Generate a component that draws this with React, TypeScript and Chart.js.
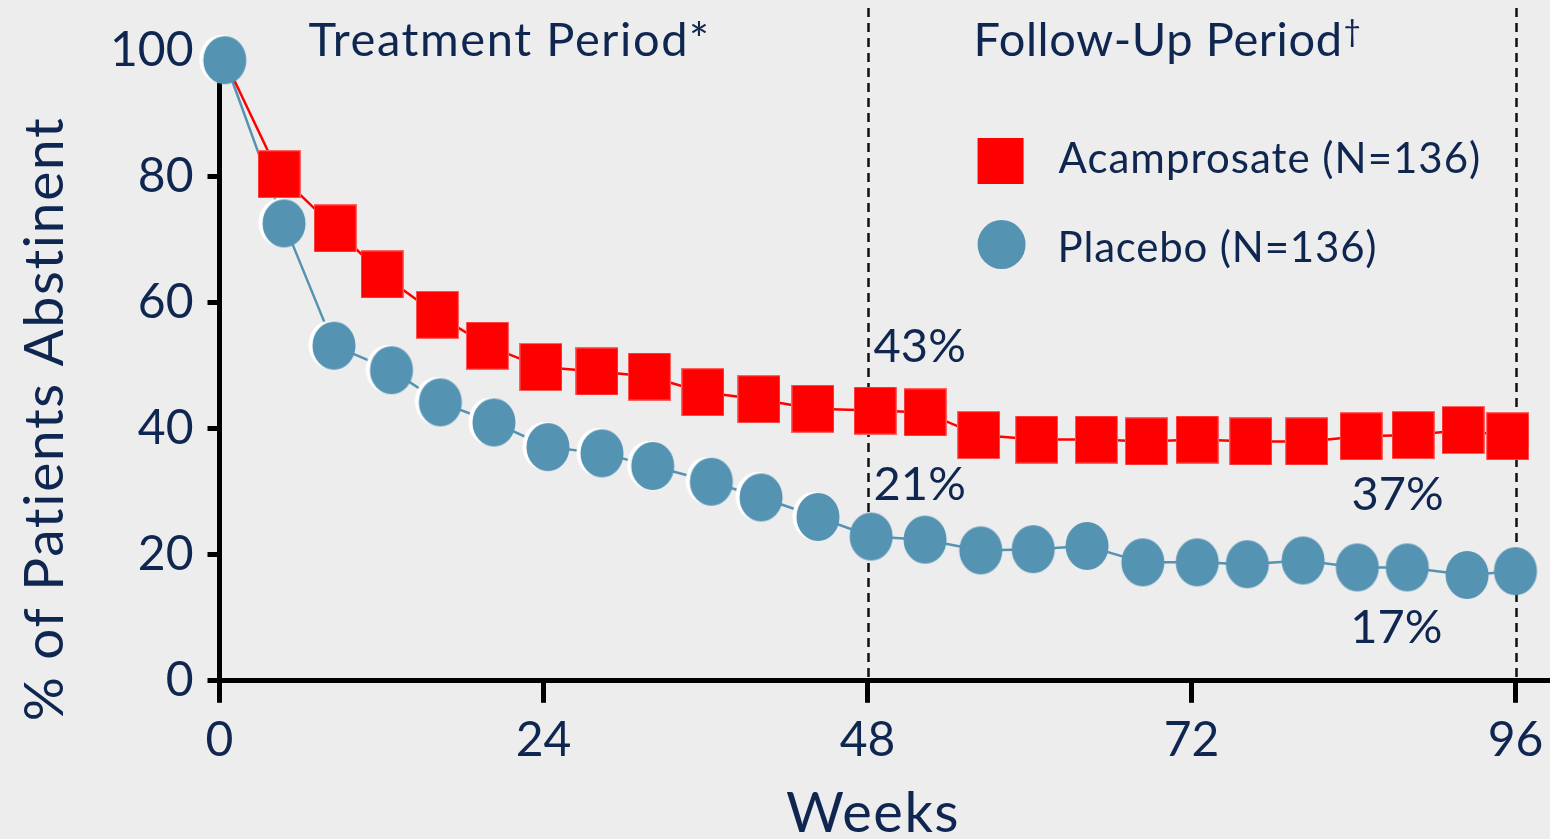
import React, { useEffect, useRef } from 'react';
import { Chart, registerables } from 'chart.js';

Chart.register(...registerables);

// ---- data ----
const ACAMPROSATE_WEEKS = [0.39, 4.41, 8.56, 12.04, 16.13, 19.84, 23.81, 27.96, 31.84, 35.81, 39.96, 43.96, 48.56, 52.26, 56.24, 60.53, 64.95, 68.65, 72.41, 76.39, 80.53, 84.56, 88.41, 92.11, 95.42];
const ACAMPROSATE_VALUES = [98.5, 80.4, 71.8, 64.5, 58.1, 53.2, 49.8, 49.1, 48.3, 45.8, 44.7, 43.2, 42.9, 42.6, 39.0, 38.3, 38.3, 38.0, 38.3, 38.0, 38.0, 38.8, 39.0, 39.8, 38.8];
const PLACEBO_WEEKS = [0.39, 4.78, 8.48, 12.74, 16.36, 20.33, 24.33, 28.33, 32.09, 36.43, 40.11, 44.33, 48.27, 52.26, 56.39, 60.27, 64.26, 68.39, 72.42, 76.13, 80.26, 84.28, 87.98, 92.41, 95.99];
const PLACEBO_VALUES = [98.5, 72.6, 53.2, 49.3, 44.2, 41.0, 37.1, 36.1, 34.1, 31.6, 29.1, 26.0, 22.9, 22.4, 20.7, 20.9, 21.4, 18.8, 18.8, 18.5, 19.1, 18.0, 18.0, 16.8, 17.4];
const X_TICKS = [0, 24, 48, 72, 96];
const Y_TICKS = [0, 20, 40, 60, 80, 100];
const PERIOD_BOUNDARIES = [48, 96];
const SERIES_NAMES = ['Acamprosate (N=136)', 'Placebo (N=136)'];
const PERIOD_NAMES = ['Treatment Period*', 'Follow-Up Period'];
const X_TITLE = 'Weeks';
const Y_TITLE = '% of Patients Abstinent';
const CALLOUTS = [
  { text: '43%', week: 48.45, value: 50.6 },
  { text: '21%', week: 48.45, value: 28.7 },
  { text: '37%', week: 83.85, value: 27.1 },
  { text: '17%', week: 83.75, value: 6.0 },
];

// ---- styles ----
const NAVY = '#0F2750';
const RED = '#FF0000';
const BLUE = '#5593B3';
const BG = '#EDEDED';
const FONT = 'Lato, "Open Sans", sans-serif';

function makeSquare(color: string) {
  const c = document.createElement('canvas');
  c.width = 43;
  c.height = 48;
  const g = c.getContext('2d')!;
  g.fillStyle = color;
  g.fillRect(0, 0, 43, 48);
  g.strokeStyle = 'rgba(255,120,120,0.8)';
  g.lineWidth = 1;
  g.strokeRect(0.5, 0.5, 42, 47);
  return c;
}

function makeEllipse(color: string, halo: boolean) {
  const c = document.createElement('canvas');
  c.width = 52;
  c.height = 50;
  const g = c.getContext('2d')!;
  if (halo) {
    g.fillStyle = '#FFFFFF';
    g.beginPath();
    g.ellipse(22, 24, 21.5, 24, 0, 0, Math.PI * 2);
    g.fill();
  }
  g.fillStyle = color;
  g.beginPath();
  g.ellipse(26, 25, 21.5, 24, 0, 0, Math.PI * 2);
  g.fill();
  return c;
}

function setSpacing(ctx: any, px: number) {
  if ('letterSpacing' in ctx) ctx.letterSpacing = `${px}px`;
}

export default function App() {
  const ref = useRef<HTMLCanvasElement | null>(null);

  useEffect(() => {
    const canvas = ref.current;
    if (!canvas) return;

    const square = makeSquare(RED);
    const dotHalo = makeEllipse(BLUE, true);
    const dot = makeEllipse(BLUE, false);

    const acData = ACAMPROSATE_WEEKS.map((w, i) => ({ x: w, y: ACAMPROSATE_VALUES[i] }));
    const plData = PLACEBO_WEEKS.map((w, i) => ({ x: w, y: PLACEBO_VALUES[i] }));

    const decor = {
      id: 'decor',
      beforeDatasetsDraw(chart: any) {
        const { ctx, chartArea, scales } = chart;
        ctx.save();
        ctx.strokeStyle = '#111111';
        ctx.lineWidth = 2.5;
        ctx.setLineDash([9, 6]);
        PERIOD_BOUNDARIES.forEach((w) => {
          const px = Math.round(scales.x.getPixelForValue(w)) + 0.5;
          ctx.beginPath();
          ctx.moveTo(px, 8);
          ctx.lineTo(px, chartArea.bottom - 3);
          ctx.stroke();
        });
        ctx.restore();
      },
      afterDraw(chart: any) {
        const { ctx, scales } = chart;
        const x = scales.x;
        const y = scales.y;
        ctx.save();
        ctx.fillStyle = NAVY;
        ctx.textBaseline = 'alphabetic';
        ctx.textAlign = 'left';

        // period titles
        ctx.font = `47px ${FONT}`;
        setSpacing(ctx, 1.6);
        ctx.fillText(PERIOD_NAMES[0], x.getPixelForValue(6.6), y.getPixelForValue(99.1));
        const fx = x.getPixelForValue(55.85);
        const fy = y.getPixelForValue(99.1);
        setSpacing(ctx, 0.6);
        ctx.fillText(PERIOD_NAMES[1], fx, fy);
        const fw = ctx.measureText(PERIOD_NAMES[1]).width;
        ctx.font = `30px ${FONT}`;
        setSpacing(ctx, 0);
        ctx.fillText('\u2020', fx + fw + 1, fy - 14);

        // callouts
        ctx.font = `47px ${FONT}`;
        CALLOUTS.forEach((c) => {
          ctx.fillText(c.text, x.getPixelForValue(c.week), y.getPixelForValue(c.value));
        });

        // legend
        const lx = x.getPixelForValue(56.15);
        const datasets = chart.data.datasets;
        ctx.fillStyle = datasets[1].borderColor;
        ctx.fillRect(lx, 138, 46, 46);
        ctx.fillStyle = datasets[0].backgroundColor;
        ctx.beginPath();
        ctx.ellipse(lx + 24, 244.5, 24, 24.5, 0, 0, Math.PI * 2);
        ctx.fill();
        ctx.fillStyle = NAVY;
        ctx.font = `42px ${FONT}`;
        setSpacing(ctx, 1.0);
        ctx.fillText(SERIES_NAMES[0], lx + 81, 173);
        setSpacing(ctx, 0.8);
        ctx.fillText(SERIES_NAMES[1], lx + 80, 262);

        // axis titles
        ctx.font = `56px ${FONT}`;
        setSpacing(ctx, 1.5);
        ctx.textAlign = 'center';
        ctx.fillText(X_TITLE, 873, 832);
        ctx.translate(63, 419);
        ctx.rotate(-Math.PI / 2);
        ctx.font = `55px ${FONT}`;
        setSpacing(ctx, 1.7);
        ctx.fillText(Y_TITLE, 0, 0);
        ctx.restore();
      },
    };

    const chart = new Chart(canvas, {
      type: 'line',
      data: {
        datasets: [
          {
            label: SERIES_NAMES[1],
            data: plData,
            showLine: false,
            pointStyle: PLACEBO_WEEKS.map((w) => (w < PERIOD_BOUNDARIES[0] ? dotHalo : dot)),
            pointRadius: 22,
            borderColor: BLUE,
            backgroundColor: BLUE,
            order: 0,
            clip: false,
          },
          {
            label: SERIES_NAMES[0],
            data: acData,
            borderColor: RED,
            backgroundColor: RED,
            borderWidth: 2.5,
            pointStyle: square,
            pointRadius: ACAMPROSATE_WEEKS.map((_, i) => (i === 0 ? 0 : 22)),
            tension: 0,
            order: 1,
            clip: false,
          },
          {
            label: SERIES_NAMES[1] + ' line',
            data: plData,
            borderColor: BLUE,
            backgroundColor: BLUE,
            borderWidth: 2.5,
            pointRadius: 0,
            tension: 0,
            order: 2,
            clip: false,
          },
        ],
      },
      options: {
        animation: false,
        responsive: false,
        events: [],
        layout: { autoPadding: false, padding: { top: 50.8, left: 0, right: 0, bottom: 0 } },
        plugins: { legend: { display: false }, tooltip: { enabled: false }, title: { display: false } },
        scales: {
          x: {
            type: 'linear',
            min: 0,
            max: 98.55,
            afterBuildTicks: (s: any) => {
              s.ticks = X_TICKS.map((v) => ({ value: v }));
            },
            afterFit: (s: any) => {
              s.height = 839 - 680.8;
              s.paddingLeft = 0;
              s.paddingRight = 0;
            },
            grid: { display: true, drawOnChartArea: false, drawTicks: true, tickLength: 22, tickWidth: 5, tickColor: '#000000' },
            border: { display: true, color: '#000000', width: 5 },
            ticks: { color: NAVY, font: { family: FONT, size: 48 }, padding: 9, maxRotation: 0, autoSkip: false },
          },
          y: {
            type: 'linear',
            min: 0,
            max: 100,
            afterBuildTicks: (s: any) => {
              s.ticks = Y_TICKS.map((v) => ({ value: v }));
            },
            afterFit: (s: any) => {
              s.width = 219.5;
              s.paddingTop = 0;
              s.paddingBottom = 0;
            },
            grid: { display: true, drawOnChartArea: false, drawTicks: true, tickLength: 12, tickWidth: 5, tickColor: '#000000' },
            border: { display: true, color: '#000000', width: 5 },
            ticks: { color: NAVY, font: { family: FONT, size: 48 }, padding: 14 },
          },
        },
      },
      plugins: [decor],
    } as any);

    return () => chart.destroy();
  }, []);

  return (
    <div style={{ position: 'fixed', left: 0, top: 0, width: 1550, height: 839, background: BG, overflow: 'hidden' }}>
      <canvas ref={ref} width={1550} height={839} style={{ display: 'block', width: 1550, height: 839 }} />
    </div>
  );
}
